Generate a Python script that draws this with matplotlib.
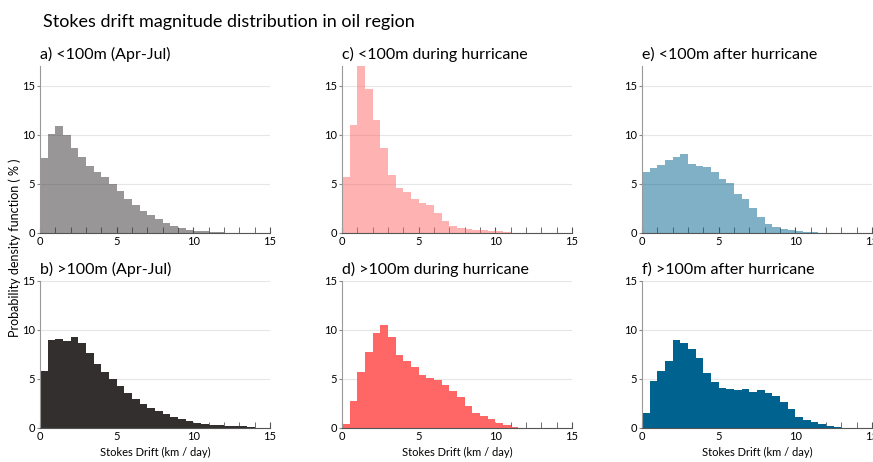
import numpy as np
import matplotlib
matplotlib.use("Agg")
import matplotlib.pyplot as plt
from matplotlib.ticker import MultipleLocator

plt.rcParams['font.family'] = ['Lato', 'DejaVu Sans']

# bin edges: 0 to 15 km/day, 0.5 wide
edges = np.arange(0, 15.01, 0.5)

# percent per bin
a_vals = [7.62, 10.06, 10.94, 10.02, 8.70, 7.69, 6.87, 6.23, 5.72, 5.01,
          4.23, 3.45, 2.81, 2.20, 1.79, 1.39, 1.05, 0.75, 0.51, 0.34,
          0.24, 0.17, 0.10, 0.07, 0.04, 0.03, 0.02, 0.01, 0.01, 0.01]
b_vals = [5.77, 8.96, 9.06, 8.89, 9.26, 8.65, 7.60, 6.55, 5.73, 4.99,
          4.24, 3.56, 2.99, 2.48, 2.07, 1.70, 1.43, 1.15, 0.92, 0.68,
          0.51, 0.37, 0.31, 0.27, 0.24, 0.20, 0.17, 0.10, 0.03, 0.02]
c_vals = [5.65, 10.97, 17.0, 14.66, 11.51, 8.64, 5.93, 4.61, 4.13, 3.45,
          3.01, 2.88, 2.07, 1.22, 0.75, 0.47, 0.41, 0.34, 0.27, 0.24,
          0.17, 0.10, 0.05, 0.03, 0.02, 0.01, 0.01, 0.01, 0.0, 0.0]
d_vals = [0.41, 2.78, 5.69, 7.75, 9.68, 10.46, 9.24, 7.45, 6.81, 6.20,
          5.42, 5.11, 4.88, 4.40, 3.76, 3.15, 2.24, 1.52, 1.22, 0.91,
          0.54, 0.27, 0.10, 0.01, 0.0, 0.0, 0.0, 0.0, 0.0, 0.0]
e_vals = [6.18, 6.62, 6.93, 7.43, 7.74, 8.01, 7.06, 6.79, 6.69, 6.18,
          5.47, 5.10, 3.99, 3.48, 2.57, 1.62, 0.88, 0.57, 0.41, 0.27,
          0.17, 0.10, 0.07, 0.04, 0.03, 0.02, 0.02, 0.01, 0.01, 0.01]
f_vals = [1.52, 4.74, 5.82, 6.80, 8.97, 8.70, 8.06, 7.08, 5.65, 4.71,
          4.10, 3.93, 3.83, 4.00, 3.69, 3.83, 3.59, 3.28, 2.61, 1.90,
          1.15, 0.81, 0.58, 0.37, 0.20, 0.10, 0.03, 0.02, 0.01, 0.01]

titles = ["a) <100m (Apr-Jul)", "b) >100m (Apr-Jul)",
          "c) <100m during hurricane", "d) >100m during hurricane",
          "e) <100m after hurricane", "f) >100m after hurricane"]
colors = ['#332f2f', '#ff6666', '#00628e']

W, H = 873, 462
fig = plt.figure(figsize=(W / 100, H / 100), dpi=100)

lefts = [40, 342, 642]
width = 230
top_row = (66, 233)      # pixel top / bottom
bot_row = (280.7, 428)

panels = [(a_vals, b_vals), (c_vals, d_vals), (e_vals, f_vals)]

for col in range(3):
    for row in range(2):
        t, b = top_row if row == 0 else bot_row
        ax = fig.add_axes([lefts[col] / W, 1 - b / H, width / W, (b - t) / H])
        vals = panels[col][row]
        alpha = 0.5 if row == 0 else 1.0
        ax.bar(edges[:-1], vals, width=0.5, align='edge', color=colors[col],
               alpha=alpha, linewidth=0, zorder=2)
        ax.set_xlim(0, 15)
        ax.set_ylim(0, 17 if row == 0 else 15)
        ax.set_yticks([0, 5, 10, 15])
        ax.yaxis.grid(True, color='#e6e6e6', linewidth=0.8, zorder=0)
        ax.set_axisbelow(True)
        ax.xaxis.set_major_locator(MultipleLocator(5))
        ax.xaxis.set_minor_locator(MultipleLocator(1))
        ax.tick_params(axis='x', which='both', direction='in', length=4,
                       color='#555555', labelsize=8, pad=2)
        ax.tick_params(axis='y', direction='out', length=2.5,
                       color='#888888', labelsize=8, pad=1)
        for s in ['top', 'right']:
            ax.spines[s].set_visible(False)
        ax.spines['left'].set_color('#999999')
        ax.spines['bottom'].set_color('#555555')
        ax.set_title(titles[col * 2 + row], loc='left', fontsize=11.5, pad=5)
        if row == 1:
            ax.set_xlabel("Stokes Drift (km / day)", fontsize=8, labelpad=4)

fig.text(43 / W, 1 - 22 / H, "Stokes drift magnitude distribution in oil region",
         fontsize=13, va='center', ha='left')
fig.text(15 / W, 1 - 248 / H, "Probability density function ( % )",
         fontsize=9, rotation=90, va='center', ha='center')

fig.savefig("out.png", dpi=100)
